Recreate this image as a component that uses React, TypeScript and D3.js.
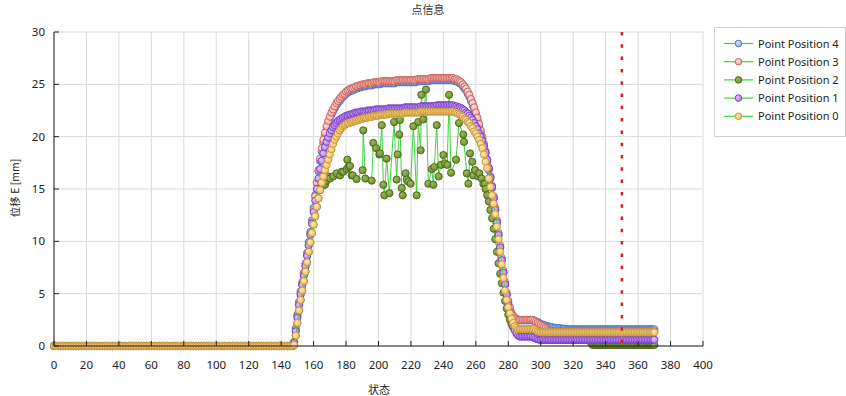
import React from "react";
import * as d3 from "d3";

// state 0..147: every position sits at zero before the load starts
const idleValues = [
  0, 0, 0, 0, 0, 0, 0, 0, 0, 0, 0, 0, 0, 0, 0, 0, 0, 0, 0, 0,
  0, 0, 0, 0, 0, 0, 0, 0, 0, 0, 0, 0, 0, 0, 0, 0, 0, 0, 0, 0,
  0, 0, 0, 0, 0, 0, 0, 0, 0, 0, 0, 0, 0, 0, 0, 0, 0, 0, 0, 0,
  0, 0, 0, 0, 0, 0, 0, 0, 0, 0, 0, 0, 0, 0, 0, 0, 0, 0, 0, 0,
  0, 0, 0, 0, 0, 0, 0, 0, 0, 0, 0, 0, 0, 0, 0, 0, 0, 0, 0, 0,
  0, 0, 0, 0, 0, 0, 0, 0, 0, 0, 0, 0, 0, 0, 0, 0, 0, 0, 0, 0,
  0, 0, 0, 0, 0, 0, 0, 0, 0, 0, 0, 0, 0, 0, 0, 0, 0, 0, 0, 0,
  0, 0, 0, 0, 0, 0, 0, 0,
];

// states 148..370
const pos4Values = [
  0.4, 1.7, 3.0, 4.2, 5.2, 6.1, 7.0, 7.9, 8.9, 9.9, 10.9, 12.0, 13.2,
  14.4, 15.6, 16.7, 17.7, 18.6, 19.4, 20.1, 20.7, 21.2, 21.7,
  22.1, 22.4, 22.7, 23.0, 23.2, 23.4, 23.6, 23.8, 23.9, 24.1,
  24.2, 24.3, 24.4, 24.4, 24.5, 24.6, 24.6, 24.7, 24.7, 24.8,
  24.8, 24.8, 24.9, 24.9, 24.9, 24.9, 25.0, 25.0, 25.0, 25.0,
  25.0, 25.1, 25.1, 25.1, 25.1, 25.1, 25.1, 25.1, 25.1, 25.1,
  25.2, 25.2, 25.2, 25.2, 25.2, 25.2, 25.2, 25.2, 25.2, 25.2,
  25.2, 25.2, 25.2, 25.3, 25.3, 25.3, 25.3, 25.3, 25.3, 25.3,
  25.3, 25.4, 25.4, 25.4, 25.4, 25.4, 25.4, 25.4, 25.4, 25.4,
  25.4, 25.4, 25.4, 25.4, 25.4, 25.4, 25.3, 25.3, 25.2, 25.1,
  25.0, 24.8, 24.6, 24.4, 24.1, 23.8, 23.4, 23.0, 22.6, 22.1,
  21.6, 21.0, 20.4, 19.8, 19.1, 18.4, 17.6, 16.8, 16.0, 15.1,
  14.1, 13.0, 11.8, 10.6, 9.4, 8.2, 7.0, 5.9, 4.9, 4.1,
  3.5, 3.1, 2.8, 2.6, 2.5, 2.45, 2.45, 2.45, 2.45, 2.45,
  2.45, 2.45, 2.45, 2.45, 2.45, 2.4, 2.35, 2.3, 2.2, 2.1,
  2.05, 2.0, 1.95, 1.9, 1.85, 1.8, 1.8, 1.75, 1.75, 1.7,
  1.7, 1.7, 1.65, 1.65, 1.65, 1.6, 1.6, 1.6, 1.6, 1.6,
  1.6, 1.6, 1.6, 1.6, 1.6, 1.6, 1.6, 1.6, 1.6, 1.6,
  1.6, 1.6, 1.6, 1.6, 1.6, 1.6, 1.6, 1.6, 1.6, 1.6,
  1.6, 1.6, 1.6, 1.6, 1.6, 1.6, 1.6, 1.6, 1.6, 1.6,
  1.6, 1.6, 1.6, 1.6, 1.6, 1.6, 1.6, 1.6, 1.6, 1.6,
  1.6, 1.6, 1.6, 1.6, 1.6, 1.6, 1.6, 1.6, 1.6, 1.6,
];

const pos3Values = [
  0.3, 1.5, 2.8, 4.0, 5.0, 5.9, 6.8, 7.7, 8.7, 9.7, 10.7, 11.8, 13.0,
  14.3, 15.6, 16.8, 17.9, 18.9, 19.7, 20.4, 21.0, 21.5, 21.9,
  22.3, 22.6, 22.9, 23.2, 23.4, 23.6, 23.8, 24.0, 24.1, 24.3,
  24.4, 24.5, 24.6, 24.6, 24.7, 24.8, 24.8, 24.9, 24.9, 25.0,
  25.0, 25.0, 25.1, 25.1, 25.1, 25.1, 25.2, 25.2, 25.2, 25.2,
  25.2, 25.3, 25.3, 25.3, 25.3, 25.3, 25.3, 25.3, 25.3, 25.3,
  25.4, 25.4, 25.4, 25.4, 25.4, 25.4, 25.4, 25.4, 25.4, 25.4,
  25.4, 25.4, 25.4, 25.5, 25.5, 25.5, 25.5, 25.5, 25.5, 25.5,
  25.5, 25.6, 25.6, 25.6, 25.6, 25.6, 25.6, 25.6, 25.6, 25.6,
  25.6, 25.6, 25.6, 25.6, 25.6, 25.6, 25.5, 25.5, 25.4, 25.3,
  25.2, 25.0, 24.8, 24.6, 24.3, 24.0, 23.6, 23.2, 22.8, 22.3,
  21.8, 21.2, 20.6, 20.0, 19.3, 18.6, 17.8, 17.0, 16.2, 15.3,
  14.3, 13.2, 12.0, 10.8, 9.6, 8.4, 7.2, 6.1, 5.1, 4.3,
  3.7, 3.2, 2.9, 2.7, 2.6, 2.5, 2.5, 2.5, 2.5, 2.5,
  2.5, 2.5, 2.5, 2.5, 2.5, 2.4, 2.3, 2.2, 2.1, 2.0,
  1.9, 1.8, 1.7, 1.6, 1.5, 1.45, 1.4, 1.4, 1.4, 1.4,
  1.4, 1.4, 1.4, 1.4, 1.4, 1.4, 1.4, 1.4, 1.4, 1.4,
  1.4, 1.4, 1.4, 1.4, 1.4, 1.4, 1.4, 1.4, 1.4, 1.4,
  1.4, 1.4, 1.4, 1.4, 1.4, 1.4, 1.4, 1.4, 1.4, 1.4,
  1.4, 1.4, 1.4, 1.4, 1.4, 1.4, 1.4, 1.4, 1.4, 1.4,
  1.4, 1.4, 1.4, 1.4, 1.4, 1.4, 1.4, 1.4, 1.4, 1.4,
  1.4, 1.4, 1.4, 1.4, 1.4, 1.4, 1.4, 1.4, 1.4, 1.4,
];

// position 2 is read point by point where it scatters (states 148..265.6)
const pos2RiseStates = [
  148, 149, 150, 151, 152, 153, 154, 155, 156, 157, 158, 159, 160,
  161, 162, 163, 164, 165, 166, 167, 168,
  169.1, 170.1, 172.1, 174.2, 176.3, 177.3, 178.3, 180.4, 180.8, 181.4,
  182.4, 183.5, 184.1, 186.5, 190.2, 190.6, 191.9, 195.8, 196.8, 198.5,
  200.5, 200.9, 202, 203, 203.6, 205, 206.7, 209.6, 211.2, 211.8,
  212.8, 213.2, 214.3, 214.9, 216.7, 217.4, 218.4, 219.8, 221.5, 223.5,
  224.5, 226, 226.4, 227.6, 229.3, 230.7, 232.8, 233.8, 234.4, 235.9,
  237.1, 238.5, 240, 241, 242.4, 243.5, 244.7, 247.8, 249.6, 252.3,
  252.7, 254.4, 255.4, 256.4, 257.8, 258.4, 259.5, 261.5, 262.1, 263.6,
  264.6, 265.6,
];
const pos2RiseValues = [
  0.1, 1.0, 2.2, 3.4, 4.4, 5.3, 6.2, 7.1, 8.0, 9.0, 9.9, 10.8, 11.6,
  12.4, 13.3, 14.1, 14.9, 15.3, 15.4, 15.4, 15.8,
  16.2, 16.0, 16.2, 16.5, 16.3, 16.65, 16.65, 16.9, 17.8, 17.1,
  17.2, 16.3, 16.3, 15.95, 16.8, 20.6, 16.0, 15.8, 19.4, 18.9,
  18.3, 18.4, 21.1, 15.4, 14.4, 17.9, 14.6, 21.4, 15.9, 18.3,
  20.2, 21.6, 15.1, 14.4, 16.5, 15.9, 15.7, 15.5, 21.0, 14.4,
  21.4, 18.7, 24.0, 21.65, 24.5, 15.5, 16.9, 15.4, 17.1, 21.1,
  16.2, 17.3, 18.25, 17.45, 17.3, 24.0, 16.55, 17.8, 21.3, 20.2,
  19.5, 16.5, 15.5, 18.4, 17.6, 16.3, 16.8, 16.2, 16.5, 16.0,
  15.5, 15.5,
];
// states 266..370
const pos2FallValues = [
  15.0, 14.4, 13.8, 13.0, 12.2,
  11.2, 10.2, 9.0, 7.9, 6.9, 6.0, 5.1, 4.3, 3.6, 3.0,
  2.5, 2.1, 1.8, 1.6, 1.5, 1.4, 1.4, 1.4, 1.4, 1.4,
  1.4, 1.4, 1.4, 1.4, 1.4, 1.4, 1.2, 1.0, 0.8, 0.6,
  0.6, 0.6, 0.6, 0.6, 0.6, 0.6, 0.6, 0.6, 0.6, 0.6,
  0.6, 0.6, 0.6, 0.6, 0.6, 0.6, 0.6, 0.6, 0.6, 0.6,
  0.6, 0.6, 0.6, 0.6, 0.6, 0.6, 0.6, 0.6, 0.6, 0.6,
  0.3, 0.1, 0.1, 0.1, 0.1, 0.1, 0.1, 0.1, 0.1, 0.1,
  0.1, 0.1, 0.1, 0.1, 0.1, 0.1, 0.1, 0.1, 0.1, 0.1,
  0.1, 0.1, 0.1, 0.1, 0.1, 0.1, 0.1, 0.1, 0.1, 0.1,
  0.1, 0.1, 0.1, 0.1, 0.1, 0.1, 0.1, 0.1, 0.1, 0.1,
];

const pos1Values = [
  0.3, 1.4, 2.7, 3.9, 4.9, 5.8, 6.7, 7.6, 8.6, 9.6, 10.6, 11.7, 12.8,
  13.9, 15.0, 16.0, 16.9, 17.7, 18.4, 19.0, 19.5, 19.9, 20.3,
  20.6, 20.9, 21.1, 21.3, 21.5, 21.6, 21.7, 21.8, 21.9, 22.0,
  22.0, 22.1, 22.1, 22.2, 22.2, 22.3, 22.3, 22.3, 22.4, 22.4,
  22.4, 22.4, 22.5, 22.5, 22.5, 22.5, 22.5, 22.6, 22.6, 22.6,
  22.6, 22.6, 22.6, 22.6, 22.6, 22.7, 22.7, 22.7, 22.7, 22.7,
  22.7, 22.7, 22.7, 22.7, 22.7, 22.8, 22.8, 22.8, 22.8, 22.8,
  22.8, 22.8, 22.8, 22.8, 22.8, 22.9, 22.9, 22.9, 22.9, 22.9,
  22.9, 22.9, 22.9, 22.9, 22.9, 23.0, 23.0, 23.0, 23.0, 23.0,
  23.0, 23.0, 23.0, 23.0, 23.0, 23.0, 22.9, 22.9, 22.8, 22.8,
  22.7, 22.6, 22.5, 22.3, 22.2, 22.0, 21.8, 21.6, 21.3, 21.0,
  20.7, 20.3, 20.0, 19.6, 19.1, 18.5, 17.8, 17.0, 16.1, 15.2,
  14.1, 13.0, 11.8, 10.6, 9.4, 8.2, 7.0, 5.9, 4.9, 4.0,
  3.2, 2.5, 1.9, 1.5, 1.2, 1.0, 0.9, 0.9, 0.9, 0.9,
  0.9, 0.9, 0.9, 0.9, 0.85, 0.8, 0.7, 0.65, 0.6, 0.6,
  0.6, 0.6, 0.6, 0.6, 0.6, 0.6, 0.6, 0.6, 0.6, 0.6,
  0.6, 0.6, 0.6, 0.6, 0.6, 0.6, 0.6, 0.6, 0.6, 0.6,
  0.6, 0.6, 0.6, 0.6, 0.6, 0.6, 0.6, 0.6, 0.6, 0.6,
  0.6, 0.6, 0.6, 0.6, 0.6, 0.6, 0.6, 0.6, 0.6, 0.6,
  0.6, 0.6, 0.6, 0.6, 0.6, 0.6, 0.6, 0.6, 0.6, 0.6,
  0.6, 0.6, 0.6, 0.6, 0.6, 0.6, 0.6, 0.6, 0.6, 0.6,
  0.6, 0.6, 0.6, 0.6, 0.6, 0.6, 0.6, 0.6, 0.6, 0.6,
];

const pos0Values = [
  0.1, 1.0, 2.2, 3.4, 4.4, 5.3, 6.2, 7.1, 8.0, 9.0, 9.9, 10.8, 11.6,
  12.4, 13.3, 14.1, 14.9, 15.6, 16.2, 16.8, 17.3, 17.8, 18.3,
  18.8, 19.3, 19.7, 20.0, 20.3, 20.6, 20.8, 21.0, 21.1, 21.2,
  21.3, 21.3, 21.4, 21.4, 21.5, 21.5, 21.6, 21.6, 21.7, 21.7,
  21.8, 21.8, 21.8, 21.9, 21.9, 21.9, 22.0, 22.0, 22.0, 22.0,
  22.1, 22.1, 22.1, 22.1, 22.1, 22.2, 22.2, 22.2, 22.2, 22.2,
  22.2, 22.2, 22.2, 22.2, 22.2, 22.3, 22.3, 22.3, 22.3, 22.3,
  22.3, 22.3, 22.3, 22.3, 22.3, 22.4, 22.4, 22.4, 22.4, 22.4,
  22.4, 22.4, 22.4, 22.4, 22.4, 22.4, 22.4, 22.4, 22.4, 22.4,
  22.4, 22.4, 22.4, 22.4, 22.4, 22.4, 22.3, 22.3, 22.2, 22.1,
  22.0, 21.9, 21.7, 21.6, 21.4, 21.3, 21.0, 20.8, 20.5, 20.3,
  20.0, 19.7, 19.3, 18.9, 18.3, 17.6, 17.0, 16.0, 15.2, 14.4,
  13.6, 12.6, 11.4, 10.2, 9.0, 7.8, 6.5, 5.3, 4.4, 3.7,
  3.1, 2.6, 2.2, 1.9, 1.75, 1.6, 1.6, 1.6, 1.6, 1.6,
  1.6, 1.6, 1.6, 1.6, 1.6, 1.6, 1.5, 1.4, 1.35, 1.3,
  1.3, 1.3, 1.3, 1.3, 1.3, 1.3, 1.3, 1.3, 1.3, 1.3,
  1.3, 1.3, 1.3, 1.3, 1.3, 1.3, 1.3, 1.3, 1.3, 1.3,
  1.3, 1.3, 1.3, 1.3, 1.3, 1.3, 1.3, 1.3, 1.3, 1.3,
  1.3, 1.3, 1.3, 1.3, 1.3, 1.3, 1.3, 1.3, 1.3, 1.3,
  1.3, 1.3, 1.3, 1.3, 1.3, 1.3, 1.3, 1.3, 1.3, 1.3,
  1.3, 1.3, 1.3, 1.3, 1.3, 1.3, 1.3, 1.3, 1.3, 1.3,
  1.3, 1.3, 1.3, 1.3, 1.3, 1.3, 1.3, 1.3, 1.3, 1.3,
];

const xTicks = [0, 20, 40, 60, 80, 100, 120, 140, 160, 180, 200, 220, 240, 260, 280, 300, 320, 340, 360, 380, 400];
const yTicks = [0, 5, 10, 15, 20, 25, 30];
const markerState = 350;

type Pt = { x: number; v: number };

const indexed = (vals: number[], from: number): Pt[] => vals.map((v, i) => ({ x: from + i, v }));

const series = [
  { id: "p4", name: "Point Position 4", light: "#d6e4fb", fill: "#86a9ea", stroke: "#4a6ecb", pts: [...indexed(idleValues, 0), ...indexed(pos4Values, 148)] },
  { id: "p3", name: "Point Position 3", light: "#fde0de", fill: "#f3a09c", stroke: "#c65c58", pts: [...indexed(idleValues, 0), ...indexed(pos3Values, 148)] },
  {
    id: "p2", name: "Point Position 2", light: "#9bb95a", fill: "#6a8a2a", stroke: "#4a641a",
    pts: [
      ...indexed(idleValues, 0),
      ...pos2RiseStates.map((x, i) => ({ x, v: pos2RiseValues[i] })),
      ...indexed(pos2FallValues, 266),
    ],
  },
  { id: "p1", name: "Point Position 1", light: "#e0c8fa", fill: "#ac74e8", stroke: "#7636c8", pts: [...indexed(idleValues, 0), ...indexed(pos1Values, 148)] },
  { id: "p0", name: "Point Position 0", light: "#fbe6b4", fill: "#f1bf58", stroke: "#c49236", pts: [...indexed(idleValues, 0), ...indexed(pos0Values, 148)] },
];

const W = 846, H = 396;
const M = { left: 54, right: 703, top: 32, bottom: 346 };

const App = () => {
  const x = d3.scaleLinear().domain([0, 400]).range([M.left, M.right]);
  const y = d3.scaleLinear().domain([0, 30]).range([M.bottom, M.top]);
  const line = d3.line<Pt>().x((d) => x(d.x)).y((d) => y(d.v));
  const font = "'Noto Sans', 'Open Sans', sans-serif";
  const cjk = "'Noto Sans CJK SC', sans-serif";

  return (
    <svg width={W} height={H} style={{ position: "absolute", left: 0, top: 0, background: "#fff" }}>
      <defs>
        {series.map((s) => (
          <radialGradient key={"g" + s.id} id={"grad-" + s.id} cx="40%" cy="38%" r="65%">
            <stop offset="0%" stopColor={s.light} />
            <stop offset="100%" stopColor={s.fill} />
          </radialGradient>
        ))}
      </defs>
      <rect width={W} height={H} fill="#fff" />
      <text x={428} y={14} textAnchor="middle" fontFamily={cjk} fontSize={11} fill="#333">点信息</text>

      {xTicks.map((t) => (
        <line key={"gx" + t} x1={x(t)} x2={x(t)} y1={M.top} y2={M.bottom} stroke="#d9d9d9" />
      ))}
      {yTicks.map((t) => (
        <line key={"gy" + t} x1={M.left} x2={M.right} y1={y(t)} y2={y(t)} stroke="#d9d9d9" />
      ))}

      {series.map((s) => (
        <g key={s.name}>
          <path d={line(s.pts) || ""} fill="none" stroke="#3fd03f" strokeWidth={1} />
          {s.pts.map((d, i) => (
            <circle key={i} cx={x(d.x)} cy={y(d.v)} r={3.6} fill={`url(#grad-${s.id})`} stroke={s.stroke} strokeWidth={0.9} />
          ))}
        </g>
      ))}

      <line x1={x(markerState)} x2={x(markerState)} y1={M.top} y2={M.bottom} stroke="#d42020" strokeWidth={2.5} strokeDasharray="3.5 8.8" />

      <line x1={M.left} x2={M.left} y1={M.top} y2={M.bottom} stroke="#222" />
      <line x1={M.left} x2={M.right} y1={M.bottom} y2={M.bottom} stroke="#222" />
      {xTicks.map((t) => (
        <g key={"tx" + t}>
          <line x1={x(t)} x2={x(t)} y1={M.bottom - 5} y2={M.bottom} stroke="#222" />
          <text x={x(t)} y={369} textAnchor="middle" fontFamily={font} fontSize={11.5} fill="#222">{t}</text>
        </g>
      ))}
      {yTicks.map((t) => (
        <g key={"ty" + t}>
          <line x1={M.left} x2={M.left + 5} y1={y(t)} y2={y(t)} stroke="#222" />
          <text x={45} y={y(t) + 4} textAnchor="end" fontFamily={font} fontSize={11.5} fill="#222">{t}</text>
        </g>
      ))}

      <text x={379} y={394} textAnchor="middle" fontFamily={cjk} fontSize={11} fill="#222">状态</text>
      <text transform="translate(18.5,188) rotate(-90)" textAnchor="middle" fontFamily={cjk} fontSize={10.5} fill="#222">位移 E [mm]</text>

      <rect x={714.5} y={27.5} width={131} height={109} fill="#fff" stroke="#d0d0d0" />
      {series.map((s, i) => {
        const ly = 43.5 + i * 18.2;
        return (
          <g key={"lg" + s.name}>
            <line x1={724} x2={753} y1={ly} y2={ly} stroke="#3fd03f" strokeWidth={1.2} />
            <circle cx={738.5} cy={ly} r={3.3} fill={`url(#grad-${s.id})`} stroke={s.stroke} strokeWidth={0.9} />
            <text x={758} y={ly + 4} fontFamily={font} fontSize={11} fill="#222">{s.name}</text>
          </g>
        );
      })}
    </svg>
  );
};

export default App;
